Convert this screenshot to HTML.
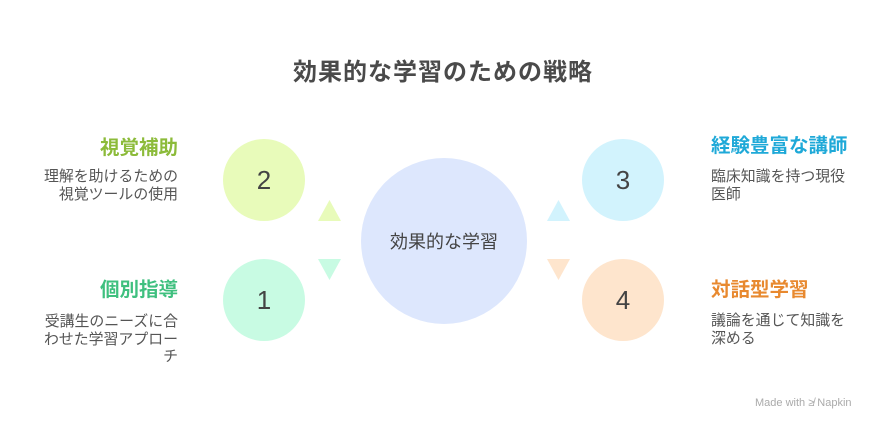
<!DOCTYPE html>
<html><head><meta charset="utf-8"><style>
body{margin:0;width:888px;height:432px;background:#fff;position:relative;overflow:hidden;font-family:"Liberation Sans","Noto Sans CJK JP",sans-serif;color:#444}
.a{position:absolute;white-space:nowrap}
.c{position:absolute;border-radius:50%;display:flex;align-items:center;justify-content:center;font-size:26px;color:#444}
.t{font-size:19.5px;font-weight:bold;line-height:24px}
.d{font-size:14.9px;line-height:17.5px;color:#555}
.r{text-align:right}
</style></head><body>
<div class="a" style="left:293px;top:52px;font-size:24px;font-weight:bold;color:#4a4a4a;letter-spacing:1px">効果的な学習のための戦略</div>

<div class="c" style="left:361px;top:158px;width:166px;height:166px;background:#dde7fd;font-size:18px">効果的な学習</div>
<div class="c" style="left:223px;top:139px;width:82px;height:82px;background:#e8fbba">2</div>
<div class="c" style="left:223px;top:259px;width:82px;height:82px;background:#c8fbe3">1</div>
<div class="c" style="left:582px;top:139px;width:82px;height:82px;background:#d2f3fd">3</div>
<div class="c" style="left:582px;top:259px;width:82px;height:82px;background:#fee5cd">4</div>

<svg class="a" style="left:0;top:0" width="888" height="432">
<polygon points="318,221 341,221 329.5,200" fill="#e8fbba"/>
<polygon points="318,259 341,259 329.5,280" fill="#c8fbe3"/>
<polygon points="547,221 570,221 558.5,200" fill="#d2f3fd"/>
<polygon points="547,259 570,259 558.5,280" fill="#fee5cd"/>
</svg>

<div class="a t r" style="right:710px;top:136px;color:#8cbb3a">視覚補助</div>
<div class="a d r" style="right:710px;top:169px">理解を助けるための<br>視覚ツールの使用</div>
<div class="a t r" style="right:710px;top:278px;color:#3fc07f">個別指導</div>
<div class="a d r" style="right:710px;top:314px">受講生のニーズに合<br>わせた学習アプロー<br>チ</div>

<div class="a t" style="left:711px;top:134px;color:#1fa9d8">経験豊富な講師</div>
<div class="a d" style="left:711px;top:169px">臨床知識を持つ現役<br>医師</div>
<div class="a t" style="left:711px;top:278px;color:#e8892f">対話型学習</div>
<div class="a d" style="left:711px;top:313px">議論を通じて知識を<br>深める</div>

<div class="a" style="left:755px;top:397px;font-size:11px;color:#aaa">Made with ≱ Napkin</div>
</body></html>
